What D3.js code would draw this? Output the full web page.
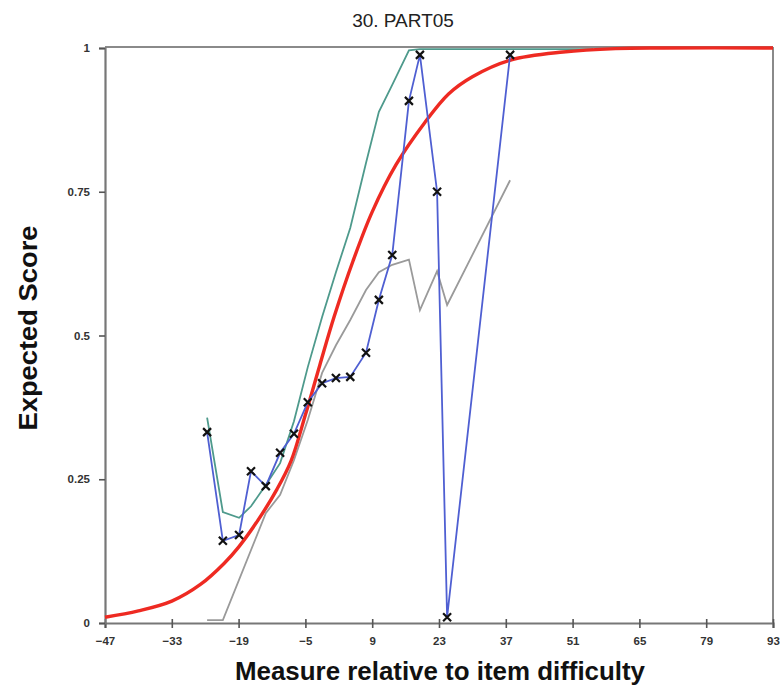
<!DOCTYPE html>
<html>
<head>
<meta charset="utf-8">
<script src="https://cdn.jsdelivr.net/npm/d3@7"></script>
<style>
  body { margin: 0; background: #fff; }
  text { font-family: "Liberation Sans", Arial, sans-serif; }
</style>
</head>
<body>
<div id="chart"></div>
<script>
// width and height
var w = 780;
var h = 689;

// observed scores (blue, with x markers)
var obsX = [-25.6, -22.3, -18.9, -16.4, -13.3, -10.3, -7.4, -4.5, -1.5, 1.4, 4.4, 7.7, 10.4, 13.2, 16.7, 19.0, 22.6, 24.7, 37.9];
var obsY = [0.332, 0.143, 0.153, 0.264, 0.238, 0.296, 0.329, 0.384, 0.417, 0.426, 0.428, 0.470, 0.562, 0.640, 0.908, 0.988, 0.750, 0.010, 0.988];

// upper confidence line (teal)
var upX = [-25.6, -22.3, -18.9, -16.4, -13.3, -10.3, -7.4, -4.5, -1.5, 1.4, 4.4, 7.7, 10.4, 13.2, 16.7, 19.0, 55.3];
var upY = [0.357, 0.193, 0.183, 0.203, 0.240, 0.278, 0.351, 0.445, 0.532, 0.610, 0.687, 0.800, 0.889, 0.936, 0.996, 0.998, 0.998];

// lower confidence line (gray)
var loX = [-25.6, -22.3, -13.3, -10.3, -7.4, -4.5, -1.5, 1.4, 4.4, 7.7, 10.4, 13.2, 16.7, 19.0, 22.6, 24.7, 37.9];
var loY = [0.005, 0.005, 0.191, 0.223, 0.283, 0.353, 0.435, 0.483, 0.527, 0.579, 0.610, 0.623, 0.632, 0.544, 0.612, 0.553, 0.770];

// model expected score curve (red)
var modX = [-47, -40, -33, -27, -22, -19, -15, -11, -8, -5, -2, 1, 5, 9, 14, 20, 25, 30, 38, 49, 60, 70, 93];
var modY = [0.010, 0.021, 0.038, 0.067, 0.104, 0.132, 0.178, 0.232, 0.282, 0.362, 0.448, 0.532, 0.630, 0.715, 0.797, 0.870, 0.920, 0.950, 0.979, 0.993, 0.999, 1, 1];

var xTicks = [-47, -33, -19, -5, 9, 23, 37, 51, 65, 79, 93];
var yTicks = [0, 0.25, 0.5, 0.75, 1];
var yTickLabels = ["0", "0.25", "0.5", "0.75", "1"];

var svg = d3.select("#chart")
  .append("svg")
  .attr("width", w)
  .attr("height", h);

var x = d3.scaleLinear().domain([-47, 93]).range([105, 773]);
var y = d3.scaleLinear().domain([0, 1]).range([623, 48]);

function zip(xs, ys) {
  return xs.map(function(d, i) { return [d, ys[i]]; });
}

var line = d3.line()
  .x(function(d) { return x(d[0]); })
  .y(function(d) { return y(d[1]); });

var smooth = d3.line()
  .x(function(d) { return x(d[0]); })
  .y(function(d) { return y(d[1]); })
  .curve(d3.curveCatmullRom);

// frame: top and right
svg.append("line")
  .attr("x1", x(-47)).attr("x2", x(93))
  .attr("y1", y(1) - 1).attr("y2", y(1) - 1)
  .attr("stroke", "#8a8a8a").attr("stroke-width", 2);
svg.append("line")
  .attr("x1", x(93)).attr("x2", x(93))
  .attr("y1", y(1) - 1).attr("y2", y(0))
  .attr("stroke", "#8a8a8a").attr("stroke-width", 2);

// axes
var xAxis = d3.axisBottom(x).tickValues(xTicks).tickSize(5).tickPadding(9);
var gx = svg.append("g")
  .attr("transform", "translate(0," + y(0) + ")")
  .call(xAxis);

var yAxis = d3.axisLeft(y).tickValues(yTicks).tickSize(6).tickPadding(9)
  .tickFormat(function(d, i) { return yTickLabels[i]; });
var gy = svg.append("g")
  .attr("transform", "translate(" + x(-47) + ",0)")
  .call(yAxis);

[gx, gy].forEach(function(g) {
  g.select(".domain").attr("stroke", "#777").attr("stroke-width", 2.2);
  g.selectAll(".tick line").attr("stroke", "#555").attr("stroke-width", 1.6);
  g.selectAll(".tick text")
    .attr("font-family", "'Liberation Sans', Arial, sans-serif")
    .attr("font-size", "11.5px")
    .attr("font-weight", "bold")
    .attr("fill", "#333");
});
// x ticks cross the axis line
gx.selectAll(".tick line").attr("y1", -4);

// lower line (gray)
svg.append("path")
  .attr("d", line(zip(loX, loY)))
  .attr("fill", "none")
  .attr("stroke", "#9a9a9a")
  .attr("stroke-width", 1.8);

// upper line (teal)
svg.append("path")
  .attr("d", line(zip(upX, upY)))
  .attr("fill", "none")
  .attr("stroke", "#4e9a8c")
  .attr("stroke-width", 1.8);

// model curve (red)
svg.append("path")
  .attr("d", smooth(zip(modX, modY)))
  .attr("fill", "none")
  .attr("stroke", "#ee2a22")
  .attr("stroke-width", 3.4);

// observed (blue)
svg.append("path")
  .attr("d", line(zip(obsX, obsY)))
  .attr("fill", "none")
  .attr("stroke", "#4f5fd2")
  .attr("stroke-width", 1.8);

// x markers
var s = 4;
svg.selectAll("path.mark")
  .data(zip(obsX, obsY))
  .enter()
  .append("path")
  .attr("class", "mark")
  .attr("d", function(d) {
    var cx = x(d[0]), cy = y(d[1]);
    return "M" + (cx - s) + "," + (cy - s) + "L" + (cx + s) + "," + (cy + s) +
      "M" + (cx - s) + "," + (cy + s) + "L" + (cx + s) + "," + (cy - s);
  })
  .attr("stroke", "#111")
  .attr("stroke-width", 2.2)
  .attr("fill", "none");

// title
svg.append("text")
  .text("30. PART05")
  .attr("x", 403)
  .attr("y", 27)
  .attr("text-anchor", "middle")
  .attr("font-size", "19px")
  .attr("fill", "#222");

// axis titles
svg.append("text")
  .text("Measure relative to item difficulty")
  .attr("x", 440)
  .attr("y", 680)
  .attr("text-anchor", "middle")
  .attr("font-size", "26px")
  .attr("font-weight", "bold")
  .attr("textLength", 410)
  .attr("lengthAdjust", "spacingAndGlyphs")
  .attr("fill", "#111");

svg.append("text")
  .text("Expected Score")
  .attr("transform", "translate(37,328) rotate(-90)")
  .attr("text-anchor", "middle")
  .attr("font-size", "26px")
  .attr("font-weight", "bold")
  .attr("textLength", 205)
  .attr("lengthAdjust", "spacingAndGlyphs")
  .attr("fill", "#111");
</script>
</body>
</html>
